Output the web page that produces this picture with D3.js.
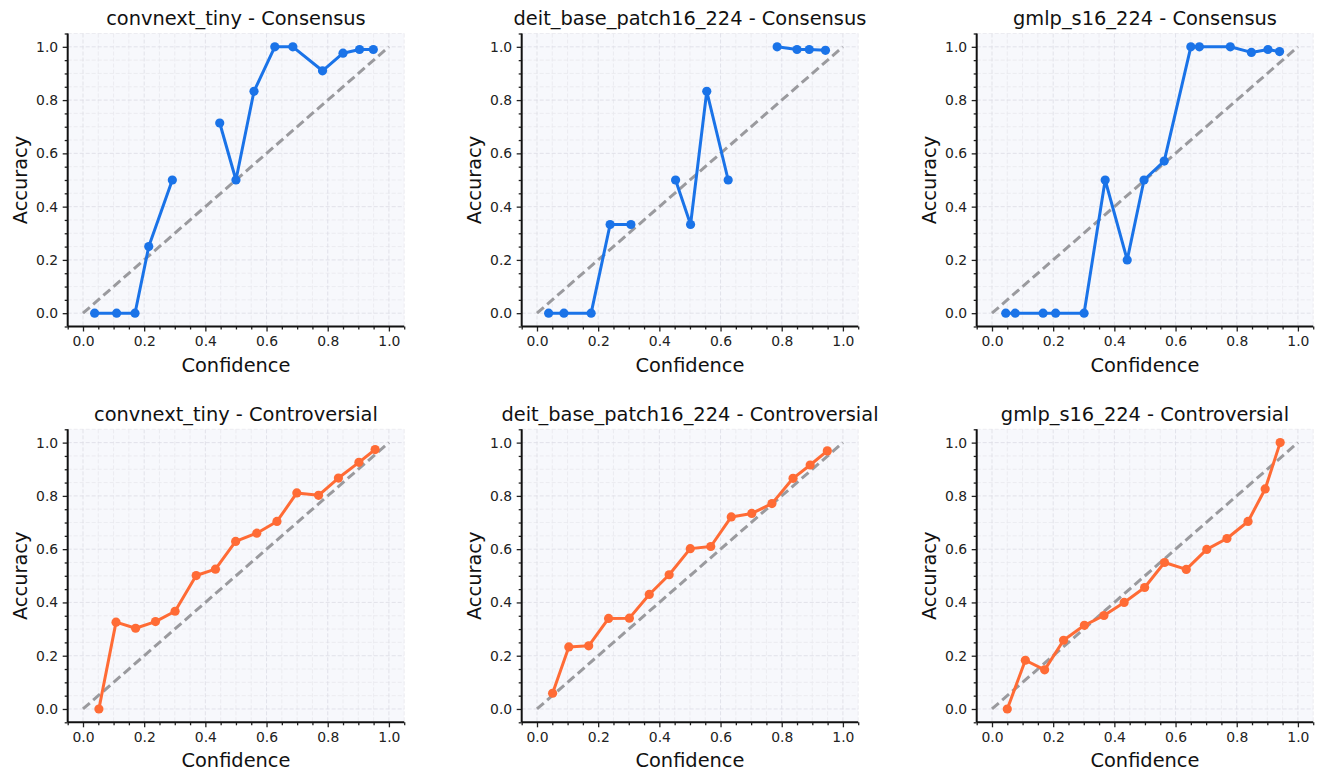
<!DOCTYPE html>
<html>
<head>
<meta charset="utf-8">
<script src="https://cdn.jsdelivr.net/npm/d3@7"></script>
<style>
  body { margin: 0; background: #fff; }
  svg { display: block; font-family: "DejaVu Sans", sans-serif; }
</style>
</head>
<body>
<svg id="chart" width="1320" height="772"></svg>
<script>
// model names, one column per model
const models = ["convnext_tiny", "deit_base_patch16_224", "gmlp_s16_224"];
const groups = ["Consensus", "Controversial"];

// consensus bins (null = empty bin, line breaks there)
const consConf = [
  [0.038, 0.110, 0.170, 0.215, 0.292, null, 0.447, 0.500, 0.559, 0.627, 0.686, 0.783, 0.850, 0.904, 0.949],
  [0.038, 0.088, 0.177, 0.239, 0.307, null, 0.453, 0.502, 0.555, 0.625, null, 0.785, 0.850, 0.890, 0.943],
  [0.045, 0.076, 0.167, 0.208, 0.301, 0.370, 0.442, 0.497, 0.563, 0.650, 0.678, 0.779, 0.848, 0.902, 0.940]
];
const consAcc = [
  [0, 0, 0, 0.25, 0.50, null, 0.714, 0.50, 0.833, 1.0, 1.0, 0.910, 0.976, 0.990, 0.990],
  [0, 0, 0, 0.333, 0.333, null, 0.50, 0.333, 0.833, 0.50, null, 1.0, 0.990, 0.990, 0.987],
  [0, 0, 0, 0, 0, 0.50, 0.20, 0.50, 0.571, 1.0, 1.0, 1.0, 0.979, 0.990, 0.982]
];

// controversial bins
const contConf = [
  [0.052, 0.108, 0.172, 0.237, 0.301, 0.370, 0.433, 0.499, 0.568, 0.634, 0.699, 0.770, 0.835, 0.902, 0.955],
  [0.051, 0.104, 0.169, 0.234, 0.302, 0.367, 0.432, 0.501, 0.568, 0.635, 0.702, 0.768, 0.837, 0.893, 0.949],
  [0.050, 0.109, 0.172, 0.234, 0.302, 0.366, 0.432, 0.499, 0.564, 0.635, 0.702, 0.768, 0.837, 0.893, 0.942]
];
const contAcc = [
  [0, 0.326, 0.303, 0.328, 0.367, 0.501, 0.525, 0.629, 0.660, 0.704, 0.811, 0.802, 0.867, 0.926, 0.974],
  [0.059, 0.233, 0.237, 0.340, 0.341, 0.430, 0.504, 0.602, 0.610, 0.721, 0.734, 0.771, 0.866, 0.916, 0.969],
  [0, 0.183, 0.147, 0.258, 0.314, 0.351, 0.400, 0.456, 0.550, 0.524, 0.599, 0.640, 0.704, 0.826, 1.0]
];

const majorTicks = [0, 0.2, 0.4, 0.6, 0.8, 1.0];
const minorTicks = d3.range(-1, 22).map(i => i * 0.05).filter(v => Math.abs(v / 0.2 - Math.round(v / 0.2)) > 1e-6);

const colors = { Consensus: "#1a73e8", Controversial: "#ff6b35" };

const svg = d3.select("#chart");
const colX = [67.7, 521.7, 976.7];
const rowY = [33.5, 429.3];
const w = 336.5, h = 293;

groups.forEach(function(group, r) {
  models.forEach(function(model, c) {
    const conf = r == 0 ? consConf[c] : contConf[c];
    const acc = r == 0 ? consAcc[c] : contAcc[c];
    const pts = conf.map((d, i) => [d, acc[i]]);

    const g = svg.append("g").attr("transform", "translate(" + colX[c] + "," + rowY[r] + ")");

    const x = d3.scaleLinear().domain([-0.05, 1.05]).range([0, w]);
    const y = d3.scaleLinear().domain([-0.05, 1.05]).range([h, 0]);

    g.append("rect").attr("width", w).attr("height", h).attr("fill", "#f7f8fc");

    // grid (minor + major)
    const grid = g.append("g");
    minorTicks.concat(majorTicks).forEach(function(v) {
      const major = majorTicks.indexOf(v) >= 0;
      const st = major ? "#dcdce4" : "#e8e8ee";
      grid.append("line").attr("x1", x(v)).attr("x2", x(v)).attr("y1", 0).attr("y2", h)
        .attr("stroke", st).attr("stroke-width", 0.8).attr("stroke-dasharray", "4,2");
      grid.append("line").attr("x1", 0).attr("x2", w).attr("y1", y(v)).attr("y2", y(v))
        .attr("stroke", st).attr("stroke-width", 0.8).attr("stroke-dasharray", "4,2");
    });

    // perfect calibration diagonal
    g.append("path")
      .attr("d", d3.line()([[x(0), y(0)], [x(1), y(1)]]))
      .attr("stroke", "#9a9a9e").attr("stroke-width", 3).attr("stroke-dasharray", "9,4.5")
      .attr("fill", "none");

    const line = d3.line()
      .defined(d => d[0] != null && d[1] != null)
      .x(d => x(d[0])).y(d => y(d[1]));

    g.append("path").attr("d", line(pts))
      .attr("fill", "none").attr("stroke", colors[group]).attr("stroke-width", 3)
      .attr("stroke-linejoin", "round");

    g.selectAll("circle").data(pts.filter(d => d[0] != null)).enter().append("circle")
      .attr("cx", d => x(d[0])).attr("cy", d => y(d[1])).attr("r", 4.6)
      .attr("fill", colors[group]);

    // axes
    const xAxis = d3.axisBottom(x).tickValues(majorTicks).tickFormat(d3.format(".1f"))
      .tickSize(5).tickPadding(4.5);
    const yAxis = d3.axisLeft(y).tickValues(majorTicks).tickFormat(d3.format(".1f"))
      .tickSize(5).tickPadding(4.5);
    const xMinor = d3.axisBottom(x).tickValues(minorTicks).tickFormat("").tickSize(3).tickSizeOuter(0);
    const yMinor = d3.axisLeft(y).tickValues(minorTicks).tickFormat("").tickSize(3).tickSizeOuter(0);

    const xg = g.append("g").attr("transform", "translate(0," + h + ")").call(xAxis);
    const yg = g.append("g").call(yAxis);
    const xmg = g.append("g").attr("transform", "translate(0," + h + ")").call(xMinor);
    const ymg = g.append("g").call(yMinor);

    [xg, yg, xmg, ymg].forEach(function(a) {
      a.select(".domain").remove();
      a.selectAll(".tick line").attr("stroke", "#222").attr("stroke-width", 1.3);
      a.selectAll(".tick text").attr("fill", "#222").style("font-size", "13.9px")
        .style("font-family", "DejaVu Sans");
    });

    // spines
    g.append("line").attr("x1", 0).attr("x2", w).attr("y1", h).attr("y2", h)
      .attr("stroke", "#111").attr("stroke-width", 2);
    g.append("line").attr("x1", 0).attr("x2", 0).attr("y1", 0).attr("y2", h)
      .attr("stroke", "#111").attr("stroke-width", 2);

    // labels
    g.append("text").attr("x", w / 2).attr("y", -8.5).attr("text-anchor", "middle")
      .style("font-size", "19.4px").attr("fill", "#111")
      .text(model + " - " + group);
    g.append("text").attr("x", w / 2).attr("y", h + 45).attr("text-anchor", "middle")
      .style("font-size", "19.4px").attr("fill", "#111").text("Confidence");
    g.append("text").attr("transform", "translate(-41," + (h / 2) + ") rotate(-90)")
      .attr("text-anchor", "middle")
      .style("font-size", "19.4px").attr("fill", "#111").text("Accuracy");
  });
});
</script>
</body>
</html>
